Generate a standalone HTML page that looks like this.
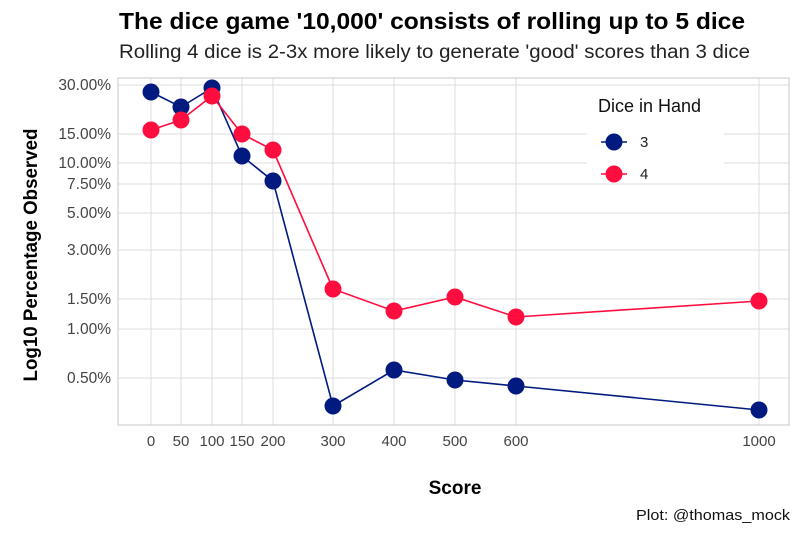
<!DOCTYPE html>
<html><head><meta charset="utf-8"><style>
body{margin:0;background:#fff}
svg text{font-family:"Liberation Sans",Arial,sans-serif}
</style></head><body>
<svg width="800" height="533" xmlns="http://www.w3.org/2000/svg">
<rect width="800" height="533" fill="#fff"/>
<text x="119" y="29" font-size="23" font-weight="bold" fill="#000" textLength="626" lengthAdjust="spacingAndGlyphs">The dice game '10,000' consists of rolling up to 5 dice</text>
<text x="119" y="58" font-size="19" fill="#222" textLength="631" lengthAdjust="spacingAndGlyphs">Rolling 4 dice is 2-3x more likely to generate 'good' scores than 3 dice</text>
<g stroke="#dcdcdc" stroke-width="1">
<line x1="118" x2="789" y1="85" y2="85"/><line x1="118" x2="789" y1="134" y2="134"/>
<line x1="118" x2="789" y1="163" y2="163"/><line x1="118" x2="789" y1="184" y2="184"/>
<line x1="118" x2="789" y1="213" y2="213"/><line x1="118" x2="789" y1="250" y2="250"/>
<line x1="118" x2="789" y1="299" y2="299"/><line x1="118" x2="789" y1="329" y2="329"/>
<line x1="118" x2="789" y1="378" y2="378"/>
<line x1="151" x2="151" y1="78" y2="425"/><line x1="181" x2="181" y1="78" y2="425"/>
<line x1="212" x2="212" y1="78" y2="425"/><line x1="242" x2="242" y1="78" y2="425"/>
<line x1="273" x2="273" y1="78" y2="425"/><line x1="333" x2="333" y1="78" y2="425"/>
<line x1="394" x2="394" y1="78" y2="425"/><line x1="455" x2="455" y1="78" y2="425"/>
<line x1="516" x2="516" y1="78" y2="425"/><line x1="759" x2="759" y1="78" y2="425"/>
</g>
<rect x="118" y="78" width="671" height="347" fill="none" stroke="#c8c8c8"/>
<g font-size="15.5" fill="#444" text-anchor="end">
<text x="111" y="90">30.00%</text><text x="111" y="139">15.00%</text><text x="111" y="168">10.00%</text>
<text x="111" y="189">7.50%</text><text x="111" y="218">5.00%</text><text x="111" y="255">3.00%</text>
<text x="111" y="304">1.50%</text><text x="111" y="334">1.00%</text><text x="111" y="383">0.50%</text>
</g>
<g font-size="15" fill="#444" text-anchor="middle">
<text x="151" y="446">0</text><text x="181" y="446">50</text><text x="212" y="446">100</text>
<text x="242" y="446">150</text><text x="273" y="446">200</text><text x="333" y="446">300</text>
<text x="394" y="446">400</text><text x="455" y="446">500</text><text x="516" y="446">600</text>
<text x="759" y="446">1000</text>
</g>
<text x="455" y="494" font-size="19" font-weight="bold" text-anchor="middle">Score</text>
<text transform="translate(37,255) rotate(-90)" font-size="19" font-weight="bold" text-anchor="middle" textLength="253" lengthAdjust="spacingAndGlyphs">Log10 Percentage Observed</text>
<text x="790" y="520" font-size="15" text-anchor="end" fill="#111" textLength="154" lengthAdjust="spacingAndGlyphs">Plot: @thomas_mock</text>
<polyline fill="none" stroke="#001a80" stroke-width="1.6" points="151,92 181,107 212,88 242,156 273,181 333,406 394,370 455,380 516,386 759,410"/>
<polyline fill="none" stroke="#ff0d3f" stroke-width="1.6" points="151,130 181,120 212,96 242,134 273,150 333,289 394,311 455,297 516,317 759,301"/>
<g fill="#001a80">
<circle cx="151" cy="92" r="8.5"/><circle cx="181" cy="107" r="8.5"/><circle cx="212" cy="88" r="8.5"/>
<circle cx="242" cy="156" r="8.5"/><circle cx="273" cy="181" r="8.5"/><circle cx="333" cy="406" r="8.5"/>
<circle cx="394" cy="370" r="8.5"/><circle cx="455" cy="380" r="8.5"/><circle cx="516" cy="386" r="8.5"/>
<circle cx="759" cy="410" r="8.5"/>
</g>
<g fill="#ff0d3f">
<circle cx="151" cy="130" r="8.5"/><circle cx="181" cy="120" r="8.5"/><circle cx="212" cy="96" r="8.5"/>
<circle cx="242" cy="134" r="8.5"/><circle cx="273" cy="150" r="8.5"/><circle cx="333" cy="289" r="8.5"/>
<circle cx="394" cy="311" r="8.5"/><circle cx="455" cy="297" r="8.5"/><circle cx="516" cy="317" r="8.5"/>
<circle cx="759" cy="301" r="8.5"/>
</g>
<rect x="587" y="88" width="137" height="93" fill="#fff"/>
<text x="598" y="112" font-size="18" fill="#111">Dice in Hand</text>
<line x1="601" x2="627" y1="142" y2="142" stroke="#001a80" stroke-width="1.6"/>
<circle cx="614" cy="142" r="8.5" fill="#001a80"/>
<text x="640" y="147" font-size="15" fill="#222">3</text>
<line x1="601" x2="627" y1="174" y2="174" stroke="#ff0d3f" stroke-width="1.6"/>
<circle cx="614" cy="174" r="8.5" fill="#ff0d3f"/>
<text x="640" y="179" font-size="15" fill="#222">4</text>
</svg>
</body></html>
